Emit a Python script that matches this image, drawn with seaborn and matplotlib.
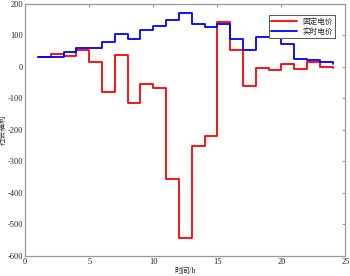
import matplotlib
matplotlib.use("Agg")
import matplotlib.pyplot as plt
import pandas as pd
import seaborn as sns

# hours 1..24
hours = list(range(1, 25))
# social welfare under fixed price (red) and real-time price (blue)
fixed_price = [32, 40, 34, 53, 14, -81, 39, -114, -56, -67, -357, -543,
               -252, -219, 141, 53, -61, -5, -10, 9, -7, 14, -2, -4]
realtime_price = [31, 32, 46, 60, 60, 79, 103, 87, 116, 129, 150, 172,
                  135, 127, 135, 89, 53, 95, 95, 74, 25, 21, 16, 9]
series_names = ['固定电价', '实时电价']

df = pd.DataFrame({
    'hour': hours * 2,
    'welfare': fixed_price + realtime_price,
    'series': [series_names[0]] * len(hours) + [series_names[1]] * len(hours),
})

sns.set_style('white')
plt.rcParams['font.family'] = ['Liberation Serif', 'Noto Sans CJK SC', 'DejaVu Sans']
plt.rcParams['axes.unicode_minus'] = False

fig = plt.figure(figsize=(3.5, 2.76), dpi=100)
ax = fig.add_axes([0.072, 0.074, 0.915, 0.912])

sns.lineplot(data=df, x='hour', y='welfare', hue='series', hue_order=series_names,
             palette=['#ff0000', '#0000ff'], drawstyle='steps-post', estimator=None,
             linewidth=1.3, ax=ax)

ax.set_xlim(0, 25)
ax.set_ylim(-600, 200)
ax.set_xticks([0, 5, 10, 15, 20, 25])
ax.set_yticks(range(-600, 201, 100))
ax.tick_params(direction='in', top=True, right=True, length=2.5, width=0.6,
               labelsize=6, pad=1.5, color='#888888')
for s in ax.spines.values():
    s.set_color('#999999')
    s.set_linewidth(0.9)

ax.set_xlabel('时间/h', fontsize=5.5, labelpad=1)
ax.set_ylabel('社会福利', fontsize=5.5)
ax.yaxis.set_label_coords(-0.058, 0.5)

leg = ax.legend(loc='upper right', fontsize=5.5, frameon=True, fancybox=False,
                edgecolor='#555555', framealpha=1, handlelength=3.4,
                borderpad=0.35, labelspacing=0.25, handletextpad=0.6,
                bbox_to_anchor=(0.98, 0.97))
leg.get_frame().set_linewidth(0.7)

plt.savefig('out.png', dpi=100)
